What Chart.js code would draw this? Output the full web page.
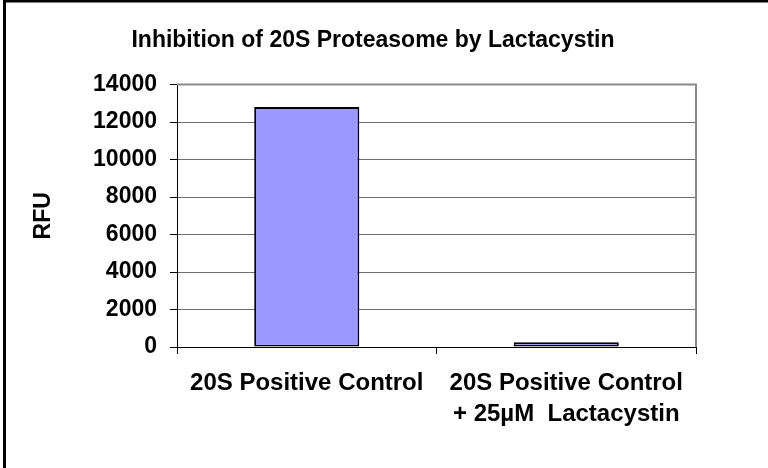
<!DOCTYPE html>
<html>
<head>
<meta charset="utf-8">
<script src="https://cdn.jsdelivr.net/npm/chart.js@4/dist/chart.umd.min.js"></script>
<style>
  html, body { margin: 0; padding: 0; background: #fff; }
  canvas { display: block; }
</style>
</head>
<body>
<canvas id="c" width="768" height="468"></canvas>
<script>
const chartTitle = "Inhibition of 20S Proteasome by Lactacystin";
const yAxisTitle = "RFU";
const categories = [
  ["20S Positive Control"],
  ["20S Positive Control", "+ 25\u00B5M  Lactacystin"]
];
const rfuValues = [12800, 260];
const yMin = 0;
const yMax = 14000;
const yStep = 2000;

const FONT = "'Liberation Sans', Arial, Helvetica, sans-serif";

const framePlugin = {
  id: 'frame',
  beforeDraw(chart) {
    const ctx = chart.ctx;
    ctx.save();
    ctx.fillStyle = '#ffffff';
    ctx.fillRect(0, 0, chart.width, chart.height);
    ctx.strokeStyle = '#000000';
    ctx.lineWidth = 3;
    ctx.beginPath();
    ctx.moveTo(4.5, chart.height);
    ctx.lineTo(4.5, 1);
    ctx.lineTo(chart.width, 1);
    ctx.stroke();
    ctx.restore();
  },
  beforeDatasetsDraw(chart) {
    const a = chart.chartArea;
    const ctx = chart.ctx;
    ctx.save();
    ctx.strokeStyle = '#8a8a8a';
    ctx.lineWidth = 2;
    ctx.beginPath();
    ctx.moveTo(a.left, a.top);
    ctx.lineTo(a.right, a.top);
    ctx.lineTo(a.right, a.bottom);
    ctx.stroke();
    ctx.restore();
  }
};

new Chart(document.getElementById('c'), {
  type: 'bar',
  data: {
    labels: categories,
    datasets: [{
      data: rfuValues,
      backgroundColor: '#9999FF',
      borderColor: '#000000',
      borderWidth: 1.8,
      borderSkipped: false,
      barPercentage: 0.405,
      categoryPercentage: 1.0
    }]
  },
  options: {
    responsive: false,
    animation: false,
    devicePixelRatio: 1,
    layout: { padding: { left: 50, right: 72, top: 0, bottom: 0 } },
    plugins: {
      legend: { display: false },
      tooltip: { enabled: false },
      title: {
        display: true,
        text: chartTitle,
        color: '#000',
        font: { family: FONT, size: 23, weight: 'bold', lineHeight: 1.2 },
        padding: { top: 27, bottom: 30 }
      }
    },
    scales: {
      x: {
        offset: true,
        grid: {
          display: true,
          offset: true,
          drawOnChartArea: false,
          drawTicks: true,
          tickLength: 7,
          color: '#000',
          lineWidth: 1
        },
        border: { display: true, color: '#000', width: 1 },
        ticks: {
          color: '#000',
          padding: 14,
          maxRotation: 0,
          autoSkip: false,
          font: { family: FONT, size: 24, weight: 'bold', lineHeight: 1.28 }
        },
        afterFit(s) { s.height = 468 - 347; }
      },
      y: {
        min: yMin,
        max: yMax,
        ticks: {
          stepSize: yStep,
          color: '#000',
          padding: 13,
          font: { family: FONT, size: 23, weight: 'bold' },
          callback: (v) => String(v)
        },
        grid: {
          color: '#6e6e6e',
          lineWidth: 1,
          tickLength: 7,
          tickColor: '#000'
        },
        border: { display: true, color: '#000', width: 1 },
        title: {
          display: true,
          text: yAxisTitle,
          color: '#000',
          font: { family: FONT, size: 23, weight: 'bold', lineHeight: 1.2 },
          padding: { top: -20, bottom: 0 }
        },
        afterFit(s) { s.width = 177 - 50; }
      }
    }
  },
  plugins: [framePlugin]
});
</script>
</body>
</html>
